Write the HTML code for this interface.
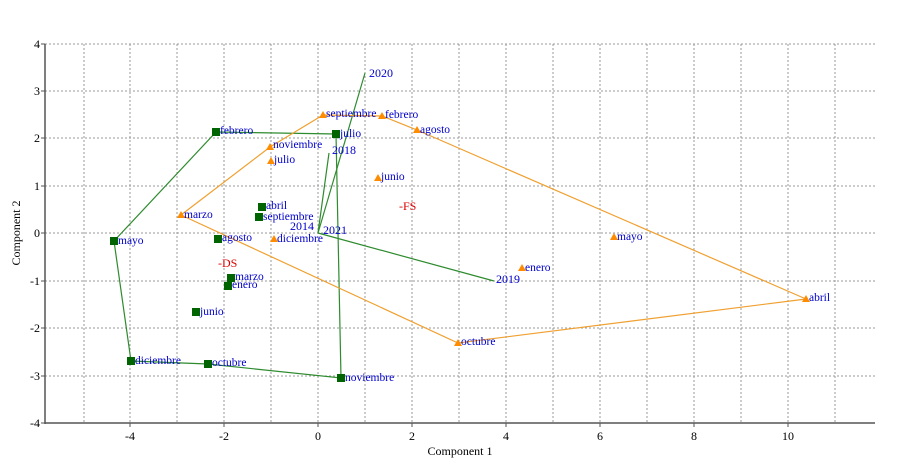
<!DOCTYPE html>
<html><head><meta charset="utf-8"><style>body{margin:0;background:#fff}svg{display:block}text{font-family:"Liberation Serif",serif}</style></head><body>
<svg width="921" height="468" xmlns="http://www.w3.org/2000/svg">
<g stroke="#999" stroke-dasharray="2,2" stroke-width="1">
<line x1="84" y1="44" x2="84" y2="423"/><line x1="130" y1="44" x2="130" y2="423"/><line x1="177" y1="44" x2="177" y2="423"/><line x1="224" y1="44" x2="224" y2="423"/><line x1="271" y1="44" x2="271" y2="423"/><line x1="318" y1="44" x2="318" y2="423"/><line x1="365" y1="44" x2="365" y2="423"/><line x1="412" y1="44" x2="412" y2="423"/><line x1="459" y1="44" x2="459" y2="423"/><line x1="506" y1="44" x2="506" y2="423"/><line x1="553" y1="44" x2="553" y2="423"/><line x1="600" y1="44" x2="600" y2="423"/><line x1="647" y1="44" x2="647" y2="423"/><line x1="694" y1="44" x2="694" y2="423"/><line x1="741" y1="44" x2="741" y2="423"/><line x1="788" y1="44" x2="788" y2="423"/><line x1="835" y1="44" x2="835" y2="423"/>
<line x1="45" y1="44" x2="875" y2="44"/><line x1="45" y1="91" x2="875" y2="91"/><line x1="45" y1="138" x2="875" y2="138"/><line x1="45" y1="186" x2="875" y2="186"/><line x1="45" y1="233" x2="875" y2="233"/><line x1="45" y1="281" x2="875" y2="281"/><line x1="45" y1="328" x2="875" y2="328"/><line x1="45" y1="376" x2="875" y2="376"/>
</g>
<g stroke="#555" stroke-width="1.5" fill="none"><line x1="45" y1="44" x2="45" y2="424"/><line x1="45" y1="423" x2="875" y2="423"/></g>
<g stroke="#555"><line x1="41" y1="44" x2="45" y2="44"/><line x1="41" y1="91" x2="45" y2="91"/><line x1="41" y1="138" x2="45" y2="138"/><line x1="41" y1="186" x2="45" y2="186"/><line x1="41" y1="233" x2="45" y2="233"/><line x1="41" y1="281" x2="45" y2="281"/><line x1="41" y1="328" x2="45" y2="328"/><line x1="41" y1="376" x2="45" y2="376"/><line x1="41" y1="423" x2="45" y2="423"/>
<line x1="130" y1="423" x2="130" y2="427"/><line x1="224" y1="423" x2="224" y2="427"/><line x1="318" y1="423" x2="318" y2="427"/><line x1="412" y1="423" x2="412" y2="427"/><line x1="506" y1="423" x2="506" y2="427"/><line x1="600" y1="423" x2="600" y2="427"/><line x1="694" y1="423" x2="694" y2="427"/><line x1="788" y1="423" x2="788" y2="427"/></g>
<g font-size="12" text-anchor="end" fill="#000"><text x="40" y="48">4</text><text x="40" y="95">3</text><text x="40" y="142">2</text><text x="40" y="190">1</text><text x="40" y="237">0</text><text x="40" y="285">-1</text><text x="40" y="332">-2</text><text x="40" y="380">-3</text><text x="40" y="427">-4</text></g>
<g font-size="12" text-anchor="middle" fill="#000"><text x="130" y="440">-4</text><text x="224" y="440">-2</text><text x="318" y="440">0</text><text x="412" y="440">2</text><text x="506" y="440">4</text><text x="600" y="440">6</text><text x="694" y="440">8</text><text x="788" y="440">10</text></g>
<text x="460" y="455" font-size="12" text-anchor="middle">Component 1</text>
<text transform="translate(20,233) rotate(-90)" font-size="12" text-anchor="middle">Component 2</text>
<g stroke="#2e8b2e" fill="none" stroke-width="1.2">
<polyline points="114,241 216,132 336,134 341,378 208,364 131,361 114,241"/>
<line x1="318" y1="233" x2="365" y2="73"/><line x1="318" y1="233" x2="329" y2="153"/><line x1="318" y1="233" x2="494" y2="281"/>
</g>
<polyline fill="none" stroke="#f0a030" stroke-width="1.2" points="181,215 270,147 323,115 382,116 417,130 806,299 458,343 181,215"/>
<g fill="#006400">
<rect x="110" y="237" width="8" height="8"/><rect x="212" y="128" width="8" height="8"/><rect x="332" y="130" width="8" height="8"/><rect x="337" y="374" width="8" height="8"/><rect x="204" y="360" width="8" height="8"/><rect x="127" y="357" width="8" height="8"/><rect x="258" y="203" width="8" height="8"/><rect x="255" y="213" width="8" height="8"/><rect x="214" y="235" width="8" height="8"/><rect x="227" y="274" width="8" height="8"/><rect x="224" y="282" width="8" height="8"/><rect x="192" y="308" width="8" height="8"/>
</g>
<g fill="#ff8c00">
<path d="M181,211l4,7h-8z"/><path d="M270,143l4,7h-8z"/><path d="M323,111l4,7h-8z"/><path d="M382,112l4,7h-8z"/><path d="M417,126l4,7h-8z"/><path d="M806,295l4,7h-8z"/><path d="M458,339l4,7h-8z"/><path d="M271,157l4,7h-8z"/><path d="M378,174l4,7h-8z"/><path d="M274,235l4,7h-8z"/><path d="M614,233l4,7h-8z"/><path d="M522,264l4,7h-8z"/>
</g>
<g font-size="11.5" fill="#0000cc">
<text x="118" y="244">mayo</text><text x="220" y="134">febrero</text><text x="340" y="137">julio</text><text x="345" y="381">noviembre</text><text x="212" y="366">octubre</text><text x="135" y="364">diciembre</text><text x="266" y="209">abril</text><text x="263" y="220">septiembre</text><text x="222" y="241">agosto</text><text x="235" y="280">marzo</text><text x="232" y="288">enero</text><text x="200" y="315">junio</text>
<text x="184" y="218">marzo</text><text x="273" y="148">noviembre</text><text x="326" y="117">septiembre</text><text x="385" y="118">febrero</text><text x="420" y="133">agosto</text><text x="809" y="301">abril</text><text x="461" y="345">octubre</text><text x="274" y="163">julio</text><text x="381" y="180">junio</text><text x="277" y="242">diciembre</text><text x="617" y="240">mayo</text><text x="525" y="271">enero</text>
<text x="369" y="77" font-size="12">2020</text><text x="332" y="154" font-size="12">2018</text><text x="290" y="230" font-size="12">2014</text><text x="323" y="234" font-size="12">2021</text><text x="496" y="283" font-size="12">2019</text>
</g>
<text x="218" y="267" font-size="12" fill="#dd0000">-DS</text><text x="399" y="210" font-size="12" fill="#dd0000">-FS</text>
</svg>
</body></html>
